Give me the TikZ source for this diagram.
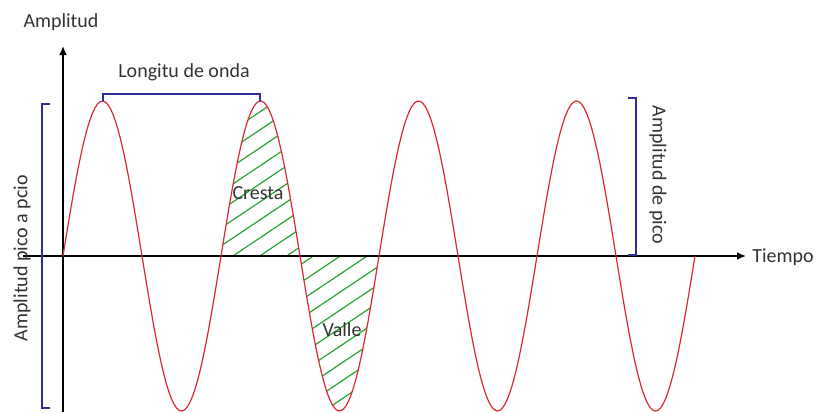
\documentclass[tikz,border=0pt]{standalone}
\usepackage{fontspec}
\setmainfont{Carlito}
\usetikzlibrary{arrows.meta}
\definecolor{wavered}{RGB}{220, 40, 50}
\definecolor{brackblue}{RGB}{45, 45, 150}
\definecolor{hatchgreen}{RGB}{40, 165, 50}

\begin{document}
\begin{tikzpicture}[
    x=0.5pt, y=-0.5pt,
    axis/.style={-{Latex[length=4.5pt, width=3.8pt]}, line width=0.7pt},
    wave/.style={wavered, line width=0.6pt},
    brk/.style={brackblue, line width=0.8pt},
    hatch/.style={hatchgreen, line width=0.6pt},
    lbl/.style={font=\fontsize{10}{12}\selectfont, text=black!80, inner sep=0pt}
]
    \useasboundingbox (0,0) rectangle (817,412);

    % axes
    \coordinate (O) at (63,256);
    \coordinate (ybot) at (63,412);
    \coordinate (ytop) at (63,46);
    \coordinate (xleft) at (23,256);
    \coordinate (xright) at (746,256);

    % hatched crest and valley of the second cycle
    \begin{scope}
        \clip plot[domain=158:316, samples=80] ({63+\x}, {256-155*sin(\x*2.27848)}) -- cycle;
        \foreach \b in {80,98,...,620}
            \draw[hatch] (200,\b) -- (400,\b-134);
    \end{scope}

    \draw[axis] (ybot) -- (ytop);
    \draw[axis] (xleft) -- (xright);

    % wave
    \draw[wave] plot[domain=0:632, samples=240] ({63+\x}, {256-155*sin(\x*2.27848)});

    % labels
    \node[lbl] (amp) at (61,22) {Amplitud};
    \node[lbl, anchor=west] (tiempo) at (752,257) {Tiempo};
    \node[lbl] (longitud) at (184,72) {Longitu de onda};
    \node[lbl] (cresta) at (258,193) {Cresta};
    \node[lbl] (valle) at (342,330) {Valle};
    \node[lbl, rotate=90] (pp) at (22,258) {Amplitud pico a pcio};
    \node[lbl, rotate=-90] (pico) at (658,175) {Amplitud de pico};

    % brackets
    \coordinate (lt) at (42,104);
    \coordinate (lb) at (42,408);
    \draw[brk] (50,104) -- (lt) -- (lb) -- (50,408);
    \coordinate (wl) at (103,94);
    \coordinate (wr) at (260,94);
    \draw[brk] (103,101) -- (wl) -- (wr) -- (260,101);
    \coordinate (rt) at (636,98);
    \coordinate (rb) at (636,255);
    \draw[brk] (628,98) -- (rt) -- (rb) -- (628,255);
\end{tikzpicture}
\end{document}
